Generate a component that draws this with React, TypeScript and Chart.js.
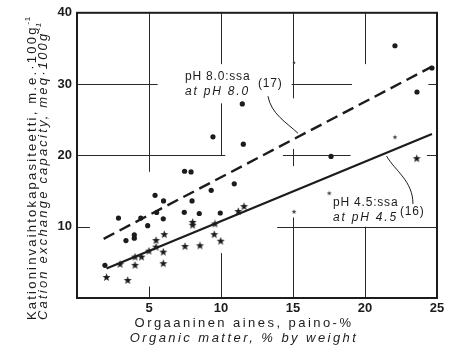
import React, { useEffect, useRef } from "react";
import { Chart, registerables } from "chart.js";

Chart.register(...registerables);

// ---- data ----
const xTicks = [5, 10, 15, 20, 25];
const yTicks = [10, 20, 30, 40];

// CEC at pH 8.0 (dots)
const ph80X = [1.94, 2.88, 3.4, 3.98, 3.98, 4.43, 4.91, 5.42, 5.53, 6.01, 5.99, 7.47, 7.92, 7.99, 7.45, 8.49, 9.95, 9.32, 10.92, 11.55, 9.44, 11.48, 22.08, 24.65, 23.61, 17.64];
const ph80Y = [4.58, 11.21, 8.06, 8.85, 8.38, 11.21, 10.14, 14.4, 11.99, 13.61, 11.11, 17.78, 17.68, 13.61, 12.01, 11.85, 11.92, 15.1, 16.01, 21.57, 22.6, 27.22, 35.38, 32.26, 28.89, 19.86];
const ph80FaintX = [15.07];
const ph80FaintY = [33.0];

// CEC at pH 4.5 (stars)
const ph45X = [2.05, 3.52, 2.99, 4.03, 4.03, 4.48, 5.0, 5.49, 5.49, 6.06, 5.99, 5.99, 7.5, 8.54, 8.03, 8.03, 9.58, 9.53, 9.98, 11.2, 11.6, 23.59];
const ph45Y = [2.88, 2.46, 4.72, 4.58, 5.74, 5.74, 6.57, 8.06, 7.13, 8.89, 6.43, 4.82, 7.22, 7.32, 10.6, 10.21, 10.38, 8.89, 7.96, 12.13, 12.82, 19.54];
const ph45FaintX = [15.07, 17.52, 22.08];
const ph45FaintY = [12.08, 14.68, 22.54];

// regression lines (end points)
const fit80X = [1.85, 24.65];
const fit80Y = [8.3, 32.45];
const fit45X = [2.05, 24.65];
const fit45Y = [4.13, 23.0];

const pts = (xs: number[], ys: number[]) => xs.map((x, i) => ({ x, y: ys[i] }));

function makeStar(size: number, outer: number, inner: number, color: string) {
  const c = document.createElement("canvas");
  c.width = size;
  c.height = size;
  const g = c.getContext("2d")!;
  g.fillStyle = color;
  g.beginPath();
  for (let i = 0; i < 10; i++) {
    const r = i % 2 ? inner : outer;
    const a = -Math.PI / 2 + (i * Math.PI) / 5;
    const px = size / 2 + r * Math.cos(a);
    const py = size / 2 + r * Math.sin(a);
    if (i) g.lineTo(px, py);
    else g.moveTo(px, py);
  }
  g.closePath();
  g.fill();
  return c;
}

const FONT = "'Liberation Sans', Arial, Helvetica, sans-serif";
const INK = "#1c1c1c";

const gridPlugin = {
  id: "partialGrid",
  beforeDatasetsDraw(chart: any) {
    const { ctx, chartArea, scales } = chart;
    const xs = scales.x;
    const ys = scales.y;
    const vSeg = [
      [5, 17.7, 40], [5, 0, 1.6],
      [10, 32.8, 40], [10, 20, 27.3], [10, 0, 6.3],
      [15, 28, 40], [15, 18.5, 20.9], [15, 0, 11.3],
      [20, 32.8, 40], [20, 0, 10],
    ];
    const hSeg = [
      [30, 0, 5.6], [30, 14.9, 19.1], [30, 24.4, 25],
      [20, 0, 10.3], [20, 14.3, 19.0], [20, 24.3, 25],
      [10, 0, 0.9], [10, 13.9, 25],
    ];
    ctx.save();
    ctx.strokeStyle = "#2a2a2a";
    ctx.lineWidth = 1;
    ctx.beginPath();
    for (const [v, a, b] of vSeg) {
      const px = Math.round(xs.getPixelForValue(v)) + 0.5;
      ctx.moveTo(px, ys.getPixelForValue(a));
      ctx.lineTo(px, ys.getPixelForValue(b));
    }
    for (const [v, a, b] of hSeg) {
      const py = Math.round(ys.getPixelForValue(v)) + 0.5;
      ctx.moveTo(xs.getPixelForValue(a), py);
      ctx.lineTo(xs.getPixelForValue(b), py);
    }
    ctx.stroke();
    ctx.lineWidth = 2;
    ctx.strokeStyle = INK;
    ctx.strokeRect(chartArea.left, chartArea.top, chartArea.right - chartArea.left, chartArea.bottom - chartArea.top);
    ctx.restore();
  },
};

const textPlugin = {
  id: "texts",
  afterDraw(chart: any) {
    const { ctx, scales } = chart;
    const X = (v: number) => scales.x.getPixelForValue(v);
    const Y = (v: number) => scales.y.getPixelForValue(v);
    ctx.save();
    ctx.fillStyle = INK;
    ctx.strokeStyle = INK;
    const setLS = (s: string) => {
      try { (ctx as any).letterSpacing = s; } catch (e) {}
    };

    // annotations
    ctx.textBaseline = "middle";
    ctx.textAlign = "left";
    setLS("0.8px");
    ctx.font = `12px ${FONT}`;
    ctx.fillText("pH 8.0:ssa", X(7.5), Y(31.0));
    ctx.fillText("(17)", X(12.57), Y(30.0));
    ctx.fillText("pH 4.5:ssa", X(17.78), Y(13.3));
    ctx.fillText("(16)", X(22.43), Y(12.1));
    setLS("1.8px");
    ctx.font = `italic 12px ${FONT}`;
    ctx.fillText("at pH 8.0", X(7.5), Y(28.96));
    ctx.fillText("at pH 4.5", X(17.78), Y(11.2));

    // leader curves
    ctx.lineWidth = 1;
    ctx.beginPath();
    ctx.moveTo(X(13.26), Y(28.3));
    ctx.bezierCurveTo(X(13.5), Y(25.8), X(14.5), Y(24.7), X(15.35), Y(23.1));
    ctx.stroke();
    ctx.beginPath();
    ctx.moveTo(X(23.33), Y(13.2));
    ctx.bezierCurveTo(X(23.33), Y(16.4), X(22.1), Y(17.8), X(21.5), Y(19.9));
    ctx.stroke();

    // x axis title
    ctx.textAlign = "center";
    setLS("2.45px");
    ctx.font = `13px ${FONT}`;
    ctx.fillText("Orgaaninen aines, paino-%", 244, 323);
    ctx.font = `italic 13px ${FONT}`;
    ctx.fillText("Organic matter, % by weight", 244, 338);

    // y axis title (rotated)
    const yTitle = (txt: string, italic: boolean, bx: number) => {
      ctx.save();
      ctx.translate(bx, 320);
      ctx.rotate(-Math.PI / 2);
      ctx.textAlign = "left";
      ctx.textBaseline = "alphabetic";
      setLS("2.2px");
      ctx.font = `${italic ? "italic " : ""}13px ${FONT}`;
      ctx.fillText(txt, 0, 0);
      const w = ctx.measureText(txt).width;
      setLS("0.5px");
      ctx.font = `${italic ? "italic " : ""}8px ${FONT}`;
      ctx.fillText("-1", w + 1, -6);
      ctx.restore();
    };
    yTitle("Kationinvaihtokapasiteetti, m.e.·100g", false, 36);
    yTitle("Cation exchange capacity, meq·100g", true, 47);

    ctx.restore();
  },
};

export default function App() {
  const ref = useRef<HTMLCanvasElement | null>(null);
  useEffect(() => {
    const canvas = ref.current!;
    const star = makeStar(9, 4.2, 1.8, INK);
    const starSmall = makeStar(6, 2.6, 1.1, "#444");
    const chart = new Chart(canvas, {
      type: "scatter",
      data: {
        datasets: [
          {
            type: "line",
            data: pts(fit80X, fit80Y),
            borderColor: INK,
            borderWidth: 2.4,
            borderDash: [12, 6],
            pointRadius: 0,
            fill: false,
          } as any,
          {
            type: "line",
            data: pts(fit45X, fit45Y),
            borderColor: INK,
            borderWidth: 2.2,
            pointRadius: 0,
            fill: false,
          } as any,
          {
            data: pts(ph80X, ph80Y),
            pointStyle: "circle",
            pointRadius: 2.6,
            backgroundColor: INK,
            borderWidth: 0,
          },
          {
            data: pts(ph80FaintX, ph80FaintY),
            pointStyle: "circle",
            pointRadius: 1.3,
            backgroundColor: "#444",
            borderWidth: 0,
          },
          {
            data: pts(ph45X, ph45Y),
            pointStyle: star,
            pointRadius: 4,
          },
          {
            data: pts(ph45FaintX, ph45FaintY),
            pointStyle: starSmall,
            pointRadius: 3,
          },
        ],
      },
      options: {
        animation: false,
        responsive: false,
        layout: { padding: { left: 0, top: 10, right: 14, bottom: 0 } },
        plugins: { legend: { display: false }, tooltip: { enabled: false } },
        scales: {
          x: {
            type: "linear",
            min: 0,
            max: 25,
            afterBuildTicks: (s: any) => { s.ticks = xTicks.map((v) => ({ value: v })); },
            afterFit: (s: any) => { s.height = 52; },
            grid: { display: false, drawTicks: false },
            border: { display: false },
            ticks: { color: INK, padding: 3, font: { family: FONT, size: 13, weight: "bold" } },
          },
          y: {
            type: "linear",
            min: 0,
            max: 40,
            afterBuildTicks: (s: any) => { s.ticks = yTicks.map((v) => ({ value: v })); },
            afterFit: (s: any) => { s.width = 77; },
            grid: { display: false, drawTicks: false },
            border: { display: false },
            ticks: { color: INK, padding: 5, font: { family: FONT, size: 13, weight: "bold" } },
          },
        },
      },
      plugins: [gridPlugin, textPlugin],
    } as any);
    return () => chart.destroy();
  }, []);
  return (
    <canvas
      ref={ref}
      width={451}
      height={350}
      style={{ position: "absolute", left: 0, top: 0, width: 451, height: 350, display: "block" }}
    />
  );
}
